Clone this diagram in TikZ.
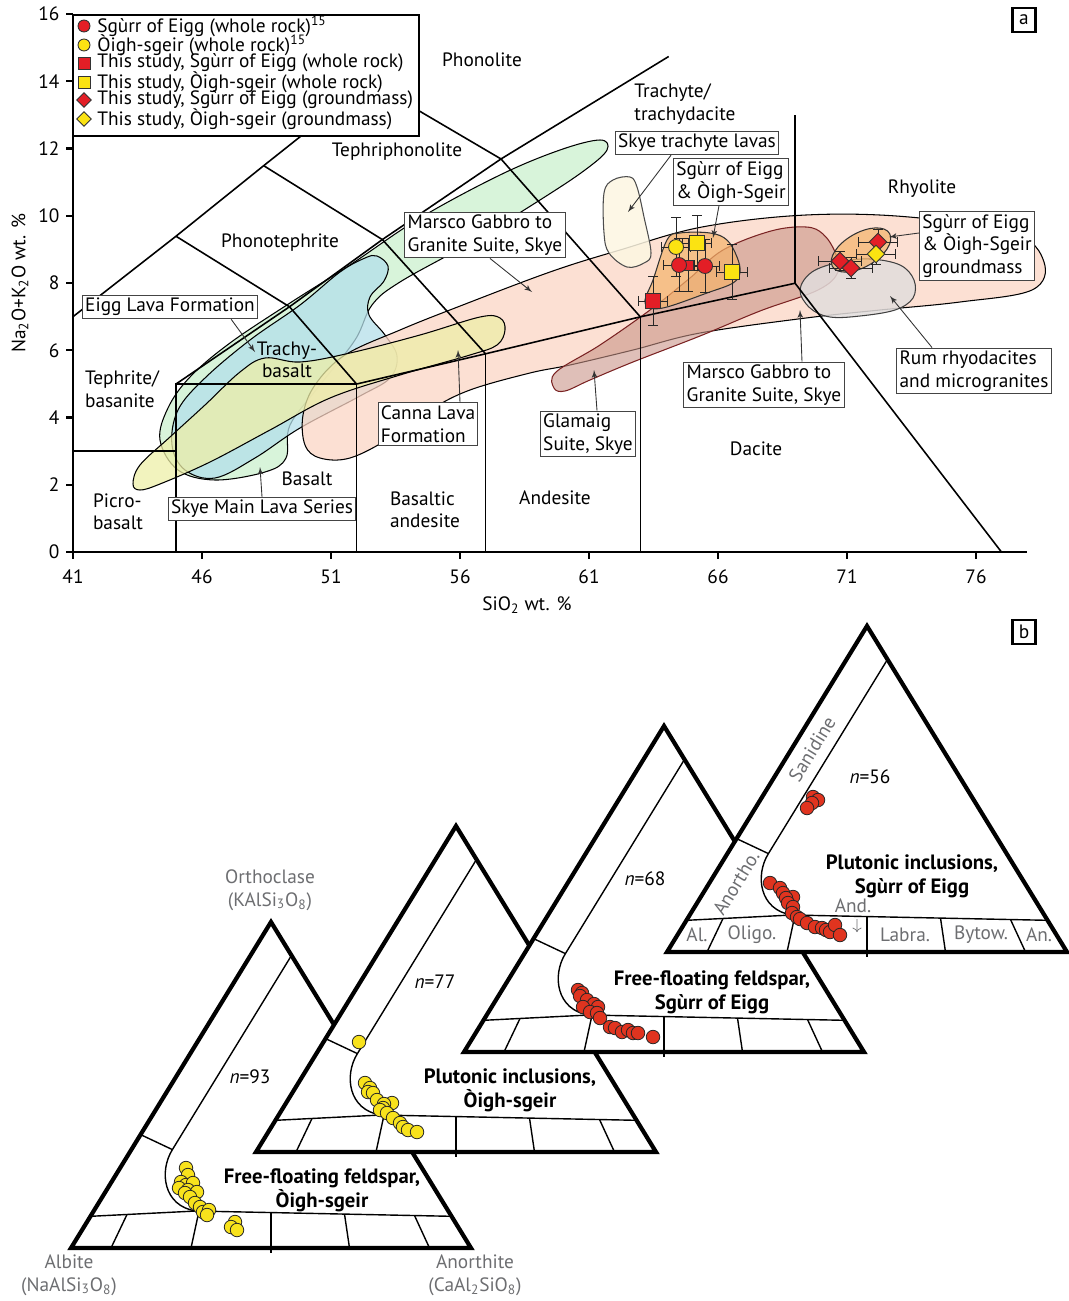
\documentclass[tikz,border=0pt]{standalone}
\usepackage{fontspec}
\setmainfont{PT Sans}
\usetikzlibrary{arrows,arrows.meta,positioning,shapes.geometric}

\definecolor{skyegreen}{HTML}{CBF0CD}
\definecolor{eiggblue}{HTML}{B4DFEA}
\definecolor{cannayellow}{HTML}{EEEFA8}
\definecolor{marscopink}{HTML}{FBD5C4}
\definecolor{glamaigbrown}{HTML}{C99488}
\definecolor{glamaigline}{HTML}{7A2323}
\definecolor{rumgray}{HTML}{E2DDDC}
\definecolor{trachycream}{HTML}{FDF6E2}
\definecolor{eiggorange}{HTML}{F4B46A}
\definecolor{sgred}{HTML}{E31E26}
\definecolor{oiyellow}{HTML}{FBE312}
\definecolor{fsred}{HTML}{E0341F}
\definecolor{fsyellow}{HTML}{F8E21C}
\definecolor{labelgray}{HTML}{6D6E71}
\definecolor{boxgray}{HTML}{444444}

\tikzset{
    field/.style={line width=0.6pt, fill opacity=0.75, draw=black},
    tasline/.style={line width=0.9pt},
    axisline/.style={line width=1.4pt},
    lbox/.style={draw=boxgray, fill=white, line width=0.6pt, inner sep=1.6pt, align=left},
    pointer/.style={-latex', line width=0.5pt, draw=black!80},
    errbar/.style={{Bar[width=5.5pt]}-{Bar[width=5.5pt]}, line width=0.55pt, draw=black!85},
    wrcirc/.style={circle, draw=black!80, line width=0.5pt, inner sep=0pt, minimum size=0.3cm},
    wrsq/.style={rectangle, draw=black!80, line width=0.5pt, inner sep=0pt, minimum size=0.3cm},
    gmdiam/.style={diamond, draw=black!80, line width=0.5pt, inner sep=0pt, minimum size=0.36cm},
    tribox/.style={line width=2.4pt, line join=miter},
    triline/.style={line width=0.8pt},
    fsdot/.style={circle, draw=black!85, line width=0.45pt, inner sep=0pt, minimum size=0.27cm},
    graylab/.style={text=labelgray, align=center},
    boldlab/.style={font=\fontsize{11.8}{13.5}\selectfont\bfseries, align=center},
    panel/.style={draw, line width=1.2pt, inner sep=0pt, minimum width=0.46cm, minimum height=0.48cm}
}

\newcommand{\ebar}[4]{%
    \draw[errbar] (#1-#3,#2) -- (#1+#3,#2);
    \draw[errbar] (#1,#2-#4) -- (#1,#2+#4);}

\newcommand{\feldtri}{%
    \fill[white] (0,0) -- (200,-326) -- (400,0) -- cycle;
    \draw[triline] (220.5,-292.6) -- (101.4,-98.4) .. controls (88,-77) and (92,-42) .. (125,-37);
    \draw[triline] (19.5,-31.7) -- (125,-37) -- (380.5,-31.7);
    \draw[triline] (69.6,-113.4) -- (101.4,-98.4);
    \draw[triline] (56,-33.5) -- (40,0);
    \draw[triline] (128,-36.9) -- (120,0);
    \draw[triline, line width=1.6pt] (200,-35.4) -- (200,5);
    \draw[triline] (273.5,-33.9) -- (278.5,0);
    \draw[triline] (343.5,-32.5) -- (358.5,0);
    \draw[tribox] (0,0) -- (200,-326) -- (400,0) -- cycle;}

\begin{document}
\begin{tikzpicture}[x=0.02cm, y=-0.02cm, font=\fontsize{11}{12.8}\selectfont]
    \useasboundingbox (0,0) rectangle (1068,1301);

    \filldraw[field, fill=skyegreen] plot[smooth cycle, tension=0.6] coordinates {(160,440) (168,408) (190,377) (230,343) (290,303) (350,265) (420,218) (500,175) (560,150) (600,140) (607,150) (585,170) (540,200) (470,243) (400,282) (372,305) (355,340) (320,385) (290,425) (286,458) (265,472) (215,480) (178,470)};
    \filldraw[field, fill=eiggblue] plot[smooth cycle, tension=0.6] coordinates {(377,256) (388,266) (384,281) (370,297) (369,315) (385,335) (397,356) (390,378) (360,396) (300,428) (255,458) (215,478) (185,470) (172,445) (178,410) (205,378) (250,340) (300,305) (340,272) (365,258)};
    \filldraw[field, fill=marscopink] plot[smooth cycle, tension=0.6] coordinates {(305,445) (303,415) (315,385) (345,355) (400,330) (455,308) (550,272) (620,250) (702,227) (806,215) (909,217) (1013,233) (1044,262) (1032,290) (960,302) (880,310) (806,318) (700,333) (633,350) (570,365) (530,373) (470,390) (430,410) (390,438) (350,458) (320,458)};
    \filldraw[field, fill=cannayellow] plot[smooth cycle, tension=0.6] coordinates {(133,484) (140,465) (170,437) (205,405) (240,372) (265,358) (300,362) (350,353) (420,335) (480,317) (500,318) (505,330) (497,345) (470,355) (400,375) (330,398) (270,430) (210,462) (160,484) (140,490)};
    \filldraw[field, draw=glamaigline, fill=glamaigbrown, fill opacity=0.6] plot[smooth cycle, tension=0.6] coordinates {(554,388) (556,372) (600,345) (650,310) (690,278) (723,250) (771,231) (806,227) (823,234) (835,252) (838,272) (818,290) (760,311) (700,336) (633,362) (590,380) (565,391)};
    \filldraw[field, draw=black!75, fill=rumgray, fill opacity=0.85] plot[smooth cycle, tension=0.6] coordinates {(800,290) (812,272) (840,262) (870,259) (900,265) (914,280) (913,298) (895,310) (860,316) (830,317) (810,308)};
    \filldraw[field, draw=black!70, fill=trachycream, fill opacity=0.85] plot[smooth cycle, tension=0.6] coordinates {(604,193) (613,180) (630,177) (637,187) (644,217) (651,253) (644,263) (627,267) (609,253) (604,233)};

    \begin{scope}[shift={(-984.8,552)}, x=0.516cm, y=0.672cm]
        \draw[tasline] (41,3) -- (45,3);
        \draw[tasline] (45,0) -- (45,5) -- (52,5) -- (52,0);
        \draw[tasline] (52,5) -- (57,5.9) -- (63,7) -- (69,8) -- (77,0);
        \draw[tasline] (57,0) -- (57,5.9);
        \draw[tasline] (63,0) -- (63,7);
        \draw[tasline] (69,8) -- (69,13);
        \draw[tasline] (45,5) -- (49.4,7.3) -- (53,9.3) -- (57.6,11.7) -- (64.1,14.75);
        \draw[tasline] (41,7) -- (45,9.4) -- (48.4,11.5) -- (52.5,14);
        \draw[tasline] (45,9.4) -- (49.4,7.3) -- (52,5);
        \draw[tasline] (48.4,11.5) -- (53,9.3) -- (57,5.9);
        \draw[tasline] (52.5,14) -- (57.6,11.7) -- (63,7);
    \end{scope}

    \filldraw[field, draw=black!80, fill=eiggorange, fill opacity=0.7] plot[smooth cycle, tension=0.6] coordinates {(645,300) (653,280) (667,240) (680,233) (710,233) (727,240) (737,257) (740,272) (733,283) (707,293) (667,307) (650,308)};
    \filldraw[field, draw=black!80, fill=eiggorange, fill opacity=0.7, rotate around={30:(861,250)}] (861,250) ellipse [x radius=33, y radius=17];

    \draw[axisline] (73,14) -- (73,552) -- (1027,552);
    \foreach \v in {0,2,...,16}
        \draw[axisline] (73,552-33.625*\v) -- (66,552-33.625*\v) node[left, inner sep=3pt] (ytick\v) {\v};
    \foreach \s [count=\k from 0] in {41,46,51,56,61,66,71,76} {
        \draw[axisline] (73+129*\k,552) -- (73+129*\k,559);
        \node (xtick\s) at (73+129*\k,577) {\s};
    }
    \node[rotate=90] (ylab) at (20,283) {Na\textsubscript{2}O+K\textsubscript{2}O wt. \%};
    \node (xlab) at (527,605) {SiO\textsubscript{2} wt. \%};
    \node[panel] (panelA) at (1024,20) {a};

    \node (phon) at (482,60) {Phonolite};
    \node (tephph) at (397,152) {Tephriphonolite};
    \node (phte) at (280,243) {Phonotephrite};
    \node[align=left] (trach) at (685,104) {Trachyte/\\trachydacite};
    \node (rhyo) at (922,189) {Rhyolite};
    \node[align=center] (trbas) at (287,360) {Trachy-\\basalt};
    \node[align=left] (teph) at (122,389) {Tephrite/\\basanite};
    \node (basalt) at (307,479) {Basalt};
    \node[align=left] (picro) at (118,512) {Picro-\\basalt};
    \node[align=left] (basand) at (425,510) {Basaltic\\andesite};
    \node (andes) at (555,498) {Andesite};
    \node (dacite) at (756,449) {Dacite};

    \ebar{676}{247}{15}{30}
    \ebar{697}{243}{15}{28}
    \ebar{679}{265}{16}{27}
    \ebar{688}{265}{12}{27}
    \ebar{705}{266}{15}{27}
    \ebar{732}{272}{16}{28}
    \ebar{653}{301}{15}{25}
    \ebar{878}{242}{20}{13}
    \ebar{876}{254}{20}{11}
    \ebar{840}{261}{22}{10}
    \ebar{851}{268}{22}{11}
    \node[wrcirc, fill=oiyellow] (oiwr1) at (676,247) {};
    \node[wrsq, fill=oiyellow] (oits1) at (697,243) {};
    \node[wrsq, fill=sgred, minimum size=0.2cm] (sgts1) at (688,265) {};
    \node[wrcirc, fill=sgred] (sgwr1) at (679,265) {};
    \node[wrcirc, fill=sgred] (sgwr2) at (705,266) {};
    \node[wrsq, fill=oiyellow] (oits2) at (732,272) {};
    \node[wrsq, fill=sgred] (sgts2) at (653,301) {};
    \node[gmdiam, fill=sgred] (sggm1) at (878,242) {};
    \node[gmdiam, fill=oiyellow] (oigm1) at (876,254) {};
    \node[gmdiam, fill=sgred] (sggm2) at (840,261) {};
    \node[gmdiam, fill=sgred] (sggm3) at (851,268) {};

    \node[lbox] (lbEigg) at (170,307) {Eigg Lava Formation};
    \node[lbox] (lbMarscoA) at (485,235) {Marsco Gabbro to\\Granite Suite, Skye};
    \node[lbox] (lbTrachy) at (697,143) {Skye trachyte lavas};
    \node[lbox] (lbSgOiA) at (731,182) {Sgùrr of Eigg\\\& Òigh-Sgeir};
    \node[lbox] (lbGround) at (977,246) {Sgùrr of Eigg\\\& Òigh-Sgeir\\groundmass};
    \node[lbox] (lbRum) at (974,371) {Rum rhyodacites\\and microgranites};
    \node[lbox] (lbMarscoB) at (764,385) {Marsco Gabbro to\\Granite Suite, Skye};
    \node[lbox] (lbGlamaig) at (588,434) {Glamaig\\Suite, Skye};
    \node[lbox] (lbCanna) at (428,424) {Canna Lava\\Formation};
    \node[lbox] (lbSkyeMain) at (262,509) {Skye Main Lava Series};

    \coordinate (eiggTip) at (255,352);
    \coordinate (marscoTipA) at (532,292);
    \coordinate (trachyTip) at (628,212);
    \coordinate (sgoiTipA) at (713,238);
    \coordinate (groundTip) at (889,237);
    \coordinate (rumTip) at (890,296);
    \coordinate (marscoTipB) at (800,310);
    \coordinate (glamaigTip) at (594,370);
    \coordinate (cannaTip) at (458,350);
    \coordinate (skyeTip) at (260,467);
    \draw[pointer] ([xshift=-0.54cm]lbEigg.south east) -- (eiggTip);
    \draw[pointer] ([xshift=0.1cm]lbMarscoA.south) -- (marscoTipA);
    \draw[pointer] ([xshift=-0.52cm]lbTrachy.south) -- (trachyTip);
    \draw[pointer] ([xshift=-0.24cm]lbSgOiA.south) -- (sgoiTipA);
    \draw[pointer] ([yshift=0.26cm]lbGround.west) -- (groundTip);
    \draw[pointer] ([xshift=-0.84cm]lbRum.north) -- (rumTip);
    \draw[pointer] ([xshift=0.76cm]lbMarscoB.north) -- (marscoTipB);
    \draw[pointer] ([xshift=0.18cm]lbGlamaig.north) -- (glamaigTip);
    \draw[pointer] ([xshift=0.64cm]lbCanna.north) -- (cannaTip);
    \draw[pointer] (lbSkyeMain.north) -- (skyeTip);

    \node[draw, line width=1.3pt, fill=white, anchor=north west, inner sep=0pt, minimum width=6.92cm, minimum height=2.42cm] (legbox) at (72,14) {};
    \node[wrcirc, fill=sgred, minimum size=0.24cm] (legm1) at (84,26) {};
    \node[wrcirc, fill=oiyellow, minimum size=0.24cm] (legm2) at (84,45) {};
    \node[wrsq, fill=sgred, minimum size=0.24cm] (legm3) at (84,63) {};
    \node[wrsq, fill=oiyellow, minimum size=0.24cm] (legm4) at (84,82) {};
    \node[gmdiam, fill=sgred, minimum size=0.3cm] (legm5) at (84,100) {};
    \node[gmdiam, fill=oiyellow, minimum size=0.3cm] (legm6) at (84,119) {};
    \node[anchor=west, inner sep=0pt] (legt1) at (97,26) {Sgùrr of Eigg (whole rock)\textsuperscript{15}};
    \node[anchor=west, inner sep=0pt] (legt2) at (97,45) {Òigh-sgeir (whole rock)\textsuperscript{15}};
    \node[anchor=west, inner sep=0pt] (legt3) at (97,63) {This study, Sgùrr of Eigg (whole rock)};
    \node[anchor=west, inner sep=0pt] (legt4) at (97,82) {This study, Òigh-sgeir (whole rock)};
    \node[anchor=west, inner sep=0pt] (legt5) at (97,100) {This study, Sgùrr of Eigg (groundmass)};
    \node[anchor=west, inner sep=0pt] (legt6) at (97,119) {This study, Òigh-sgeir (groundmass)};

    \begin{scope}[shift={(71,1248)}]
        \feldtri
    \end{scope}
    \begin{scope}[shift={(256,1152)}]
        \feldtri
    \end{scope}
    \begin{scope}[shift={(464,1052)}]
        \feldtri
    \end{scope}
    \begin{scope}[shift={(667,952)}]
        \feldtri
    \end{scope}
    \node[panel] (panelB) at (1024,632) {b};

    \foreach \px/\py [count=\i] in {186/1168, 188/1175, 181/1182, 186/1185, 193/1183, 179/1188, 188/1190, 197/1192, 185/1193, 190/1197, 195/1203, 200/1207, 203/1212, 209/1210, 207/1215, 235/1222, 231/1227, 237/1230}
        \node[fsdot, fill=fsyellow] (oiff\i) at (\px,\py) {};
    \foreach \px/\py [count=\i] in {359/1042, 365/1083, 370/1088, 368/1092, 373/1093, 377/1100, 392/1103, 384/1104, 383/1108, 380/1110, 387/1113, 393/1118, 400/1123, 403/1127, 408/1130, 417/1132}
        \node[fsdot, fill=fsyellow] (oipl\i) at (\px,\py) {};
    \foreach \px/\py [count=\i] in {578/990, 582/993, 580/996, 587/1000, 594/1004, 598/1007, 583/1007, 590/1012, 597/1013, 600/1018, 610/1027, 615/1028, 622/1032, 628/1030, 633/1033, 638/1033, 653/1037}
        \node[fsdot, fill=fsred] (sgff\i) at (\px,\py) {};
    \foreach \px/\py [count=\i] in {813/797, 818/800, 812/803, 807/808, 770/883, 780/888, 783/893, 793/897, 786/898, 788/903, 793/907, 792/913, 797/917, 800/919, 807/923, 815/927, 822/928, 826/930, 830/932, 835/925, 840/935}
        \node[fsdot, fill=fsred] (sgpl\i) at (\px,\py) {};

    \node[graylab] (orth) at (270,890) {Orthoclase\\(KAlSi\textsubscript{3}O\textsubscript{8})};
    \node[graylab] (albite) at (69,1275) {Albite\\(NaAlSi\textsubscript{3}O\textsubscript{8})};
    \node[graylab] (anorth) at (475,1275) {Anorthite\\(CaAl\textsubscript{2}SiO\textsubscript{8})};

    \node (nff93) at (250,1077) {\textit{n}=93};
    \node (npl77) at (435,982) {\textit{n}=77};
    \node (nff68) at (645,879) {\textit{n}=68};
    \node (npl56) at (870,777) {\textit{n}=56};
    \node[boldlab] (ttlA) at (322,1190) {Free-floating feldspar,\\Òigh-sgeir};
    \node[boldlab] (ttlB) at (510,1090) {Plutonic inclusions,\\Òigh-sgeir};
    \node[boldlab] (ttlC) at (712,992) {Free-floating feldspar,\\Sgùrr of Eigg};
    \node[boldlab] (ttlD) at (912,876) {Plutonic inclusions,\\Sgùrr of Eigg};

    \node[text=labelgray, rotate=58.5, inner sep=1pt] (sanid) at (812,749) {Sanidine};
    \node[text=labelgray, rotate=58.5, inner sep=1pt] (anortho) at (736,883) {Anortho.};
    \node[text=labelgray] (andlab) at (853,906) {And.};
    \coordinate (andTip) at (857,932);
    \draw[->, draw=labelgray, line width=0.4pt] ([xshift=0.08cm]andlab.south) -- (andTip);
    \node[text=labelgray] (allab) at (697,935) {Al.};
    \node[text=labelgray] (oligo) at (752,935) {Oligo.};
    \node[text=labelgray] (labra) at (905,935) {Labra.};
    \node[text=labelgray] (bytow) at (981,935) {Bytow.};
    \node[text=labelgray] (anlab) at (1039,935) {An.};
\end{tikzpicture}
\end{document}
